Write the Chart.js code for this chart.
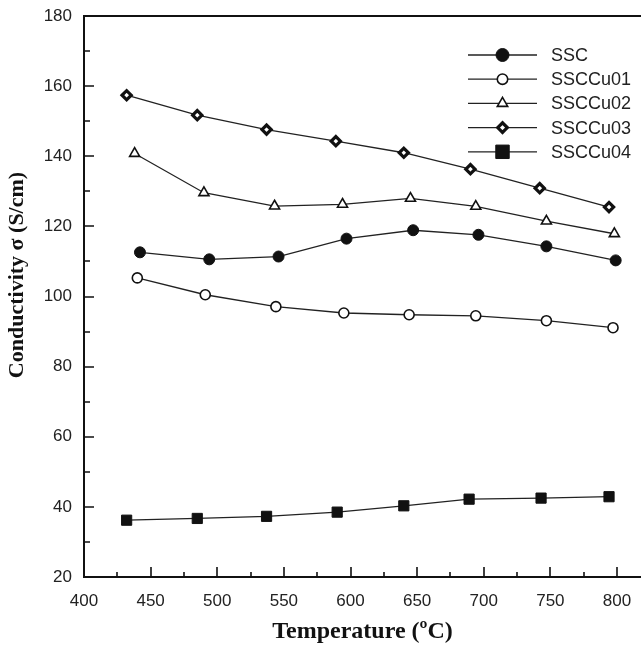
<!DOCTYPE html>
<html>
<head>
<meta charset="utf-8">
<script src="https://cdn.jsdelivr.net/npm/chart.js@4"></script>
<style>
  html, body { margin: 0; padding: 0; background: #fff; }
  #wrap { width: 641px; height: 646px; }
</style>
</head>
<body>
<div id="wrap"><canvas id="myChart" width="641" height="646"></canvas></div>
<script>
// temperatures (ºC) and conductivity (S/cm)
const sscX = [442, 494, 546, 597, 647, 696, 747, 799]
const sscY = [112.6, 110.6, 111.4, 116.5, 118.9, 117.6, 114.3, 110.3]

const cu01X = [440, 491, 544, 595, 644, 694, 747, 797]
const cu01Y = [105.3, 100.5, 97.1, 95.3, 94.8, 94.5, 93.1, 91.1]

const cu02X = [438, 490, 543, 594, 645, 694, 747, 798]
const cu02Y = [140.8, 129.6, 125.8, 126.3, 128.0, 125.7, 121.5, 117.9]

const cu03X = [432, 485, 537, 589, 640, 690, 742, 794]
const cu03Y = [157.4, 151.7, 147.6, 144.3, 141.0, 136.3, 130.9, 125.5]

const cu04X = [432, 485, 537, 590, 640, 689, 743, 794]
const cu04Y = [36.2, 36.7, 37.3, 38.5, 40.3, 42.2, 42.5, 42.9]

const seriesNames = ["SSC", "SSCCu01", "SSCCu02", "SSCCu03", "SSCCu04"]

const xTitle = "Temperature (\u00BAC)"
const yTitle = "Conductivity \u03C3 (S/cm)"

const ink = '#111'

function toPoints(xs, ys) {
    return xs.map((x, i) => ({x: x, y: ys[i]}))
}

function series(label, xs, ys, style) {
    return Object.assign({
        label: label,
        data: toPoints(xs, ys),
        borderColor: '#222',
        borderWidth: 1.3,
        pointBorderColor: ink,
        pointHoverRadius: 0,
        tension: 0
    }, style)
}

// legend swatch sizes are a touch bigger than the marks on the plot
const legendMarks = [
    {pointStyle: 'circle', radius: 6.5, borderWidth: 1, fill: ink},
    {pointStyle: 'circle', radius: 5.2, borderWidth: 1.6, fill: '#fff'},
    {pointStyle: 'triangle', radius: 6, borderWidth: 1.6, fill: '#fff'},
    {pointStyle: 'rectRot', radius: 4.8, borderWidth: 3.2, fill: '#fff'},
    {pointStyle: 'rect', radius: 9.5, borderWidth: 1, fill: ink}
]

const framePlugin = {
    id: 'frame',
    afterDraw(chart) {
        const {ctx, chartArea: a, scales: {x, y}} = chart
        ctx.save()
        ctx.strokeStyle = ink
        ctx.lineWidth = 2
        ctx.beginPath()
        ctx.moveTo(a.left, a.top)
        ctx.lineTo(a.right, a.top)
        ctx.moveTo(a.left, a.top - 1)
        ctx.lineTo(a.left, a.bottom)
        ctx.lineTo(a.right, a.bottom)
        ctx.stroke()

        // inward ticks, long on labelled values
        ctx.lineWidth = 1.6
        ctx.beginPath()
        x.ticks.forEach(t => {
            if (t.value <= x.min) return
            const px = Math.round(x.getPixelForValue(t.value))
            const len = t.value % 50 === 0 ? 10 : 5
            ctx.moveTo(px, a.bottom)
            ctx.lineTo(px, a.bottom - len)
        })
        y.ticks.forEach(t => {
            if (t.value <= y.min || t.value >= y.max) return
            const py = Math.round(y.getPixelForValue(t.value))
            const len = t.value % 20 === 0 ? 10 : 6
            ctx.moveTo(a.left, py)
            ctx.lineTo(a.left + len, py)
        })
        ctx.stroke()

        // y axis title
        ctx.translate(17, 275)
        ctx.rotate(-Math.PI / 2)
        ctx.fillStyle = ink
        ctx.font = 'bold 22px "Liberation Serif", "Times New Roman", serif'
        ctx.textAlign = 'center'
        ctx.textBaseline = 'middle'
        ctx.fillText(yTitle, 0, 0)
        ctx.restore()

        // legend: short line with the marker on it
        ctx.save()
        ctx.font = '18px "Liberation Sans", Arial, sans-serif'
        ctx.textBaseline = 'middle'
        ctx.fillStyle = '#222'
        chart.data.datasets.forEach((ds, i) => {
            const ly = 55 + i * 24.2
            ctx.strokeStyle = '#222'
            ctx.lineWidth = 1.3
            ctx.beginPath()
            ctx.moveTo(468, ly)
            ctx.lineTo(537, ly)
            ctx.stroke()
            const m = legendMarks[i]
            ctx.fillStyle = m.fill
            ctx.strokeStyle = ink
            ctx.lineWidth = m.borderWidth
            Chart.helpers.drawPoint(ctx, {pointStyle: m.pointStyle, radius: m.radius, rotation: 0, borderWidth: m.borderWidth}, 502.5, ly)
            ctx.fillStyle = '#222'
            ctx.fillText(ds.label, 551, ly + 1)
        })
        ctx.restore()
    }
}

const ctx = document.getElementById('myChart').getContext('2d')
new Chart(ctx, {
    type: 'line',
    data: {
        datasets: [
            series(seriesNames[0], sscX, sscY, {pointStyle: 'circle', pointRadius: 5.5, pointBorderWidth: 1, pointBackgroundColor: ink}),
            series(seriesNames[1], cu01X, cu01Y, {pointStyle: 'circle', pointRadius: 5, pointBorderWidth: 1.6, pointBackgroundColor: '#fff'}),
            series(seriesNames[2], cu02X, cu02Y, {pointStyle: 'triangle', pointRadius: 5.8, pointBorderWidth: 1.6, pointBackgroundColor: '#fff'}),
            series(seriesNames[3], cu03X, cu03Y, {pointStyle: 'rectRot', pointRadius: 4.6, pointBorderWidth: 3.2, pointBackgroundColor: '#fff'}),
            series(seriesNames[4], cu04X, cu04Y, {pointStyle: 'rect', pointRadius: 7.2, pointBorderWidth: 1, pointBackgroundColor: ink})
        ]
    },
    options: {
        responsive: false,
        animation: false,
        events: [],
        layout: {autoPadding: false, padding: {top: 16, right: 0, left: 0, bottom: 0}},
        plugins: {
            legend: {display: false},
            tooltip: {enabled: false}
        },
        scales: {
            x: {
                type: 'linear',
                min: 400,
                max: 818,
                grid: {display: false, drawTicks: false},
                border: {display: false},
                ticks: {
                    stepSize: 25,
                    includeBounds: false,
                    autoSkip: false,
                    maxRotation: 0,
                    padding: 14,
                    color: '#222',
                    font: {family: '"Liberation Sans", Arial, sans-serif', size: 17},
                    callback: v => v % 50 === 0 ? v : ''
                },
                title: {
                    display: true,
                    text: xTitle,
                    color: ink,
                    padding: {top: 0, bottom: 0},
                    font: {family: '"Liberation Serif", "Times New Roman", serif', size: 24, weight: 'bold'}
                },
                afterFit: scale => {
                    scale.height = 69
                    scale.paddingLeft = 0
                    scale.paddingRight = 0
                }
            },
            y: {
                min: 20,
                max: 180,
                grid: {display: false, drawTicks: false},
                border: {display: false},
                ticks: {
                    stepSize: 10,
                    autoSkip: false,
                    padding: 12,
                    color: '#222',
                    font: {family: '"Liberation Sans", Arial, sans-serif', size: 17},
                    callback: v => v % 20 === 0 ? v : ''
                },
                afterFit: scale => {
                    scale.width = 84
                    scale.paddingTop = 0
                    scale.paddingBottom = 0
                }
            }
        }
    },
    plugins: [framePlugin]
})
</script>
</body>
</html>
